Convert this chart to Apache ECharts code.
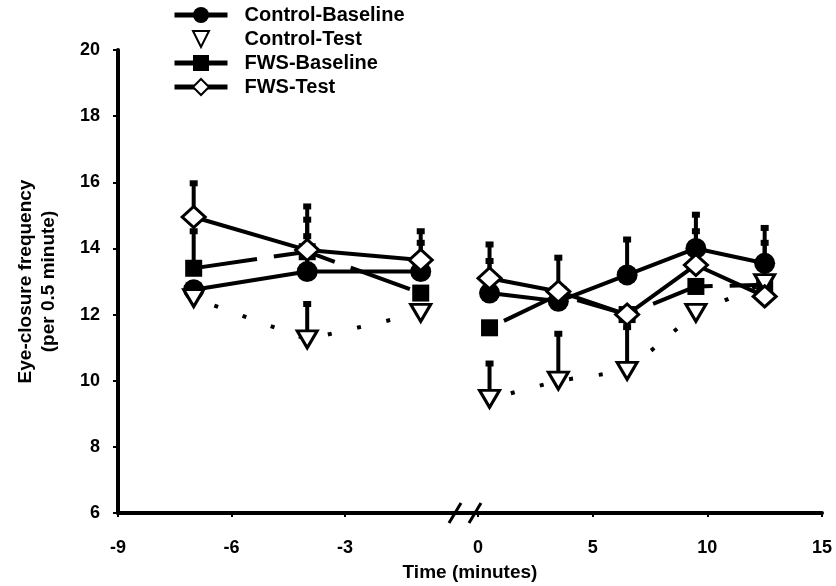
<!DOCTYPE html>
<html><head><meta charset="utf-8">
<script src="https://cdn.jsdelivr.net/npm/echarts@6/dist/echarts.min.js"></script>
<style>html,body{margin:0;padding:0;background:#fff}#c{width:836px;height:586px}</style>
</head><body><div id="c"></div>
<script>
// ---- data ----
const xLeft = [-7, -4, -1];
const xRight = [0.5, 3.5, 6.5, 9.5, 12.5];
const xTicksLeft = [-9, -6, -3];
const xTicksRight = [0, 5, 10, 15];
const yTicks = [6, 8, 10, 12, 14, 16, 18, 20];
const controlBaseline    = [12.75, 13.3, 13.3, 12.65, 12.4, 13.2, 14.0, 13.55];
const controlBaselineErr = [null, 1.1, 0.9, 1.0, null, 1.1, 1.05, 1.1];
const controlTest        = [12.5, 11.25, 12.05, 9.45, 10.0, 10.3, 12.05, 12.95];
const controlTestErr     = [null, 1.1, null, 1.1, 1.45, 1.35, null, null];
const fwsBaseline        = [13.4, 13.9, 12.65, 11.6, 12.6, 12.0, 12.85, 12.9];
const fwsBaselineErr     = [1.15, 1.0, null, null, null, null, null, 1.3];
const fwsTest            = [14.95, 13.95, 13.65, 13.1, 12.7, 12.0, 13.5, 12.55];
const fwsTestErr         = [1.05, 1.35, 0.9, 1.05, 1.05, null, 1.05, null];

const FONT = 'Liberation Sans';
const groups = [
  {name:'Control-Baseline', vals:controlBaseline, err:controlBaselineErr,
   symbol:'circle', size:21, rot:0, fill:'#000', border:0, dash:'solid', offL:0, offR:0},
  {name:'FWS-Baseline', vals:fwsBaseline, err:fwsBaselineErr,
   symbol:'rect', size:17, rot:0, fill:'#000', border:0, dash:[63,17], offL:79, offR:64},
  {name:'Control-Test', vals:controlTest, err:controlTestErr,
   symbol:'triangle', size:[20,17], rot:180, fill:'#fff', border:3, dash:[4,26], offL:8, offR:8},
  {name:'FWS-Test', vals:fwsTest, err:fwsTestErr,
   symbol:'diamond', size:[23,21], rot:0, fill:'#fff', border:3, dash:'solid', offL:0, offR:0}
];

function renderErr(params, api) {
  const x = api.value(0), m = api.value(1), t = api.value(2);
  const p0 = api.coord([x, m]), p1 = api.coord([x, t]);
  return {type:'group', children:[
    {type:'line', shape:{x1:p0[0], y1:p0[1], x2:p1[0], y2:p1[1]}, style:{stroke:'#000', lineWidth:4}},
    {type:'rect', shape:{x:p1[0]-4, y:p1[1]-2, width:8, height:6}, style:{fill:'#000'}}
  ]};
}

const series = [];
[0,1].forEach(gi => {
  const xs = gi === 0 ? xLeft : xRight;
  const start = gi === 0 ? 0 : xLeft.length;
  const data = [];
  groups.forEach(g => {
    xs.forEach((x, i) => {
      const e = g.err[start + i];
      if (e != null) data.push([x, g.vals[start + i], g.vals[start + i] + e]);
    });
  });
  series.push({type:'custom', xAxisIndex:gi, yAxisIndex:gi, z:1, silent:true,
    renderItem:renderErr, data:data, encode:{x:0, y:[1,2]}});
});
groups.forEach(g => {
  [0,1].forEach(gi => {
    const xs = gi === 0 ? xLeft : xRight;
    const start = gi === 0 ? 0 : xLeft.length;
    series.push({
      type:'line', name:g.name, xAxisIndex:gi, yAxisIndex:gi, z:3,
      data: xs.map((x, i) => [x, g.vals[start + i]]),
      symbol:g.symbol, symbolSize:g.size, symbolRotate:g.rot, showAllSymbol:true,
      itemStyle:{color:g.fill, borderColor:'#000', borderWidth:g.border, opacity:1},
      lineStyle:{color:'#000', width:4, type:g.dash, dashOffset: gi===0 ? g.offL : g.offR, cap:'butt'},
      emphasis:{disabled:true}
    });
  });
});

const axisLine = {show:true, onZero:false, lineStyle:{color:'#000', width:4}};
const labelStyle = {color:'#000', fontFamily:FONT, fontWeight:'bold', fontSize:18};
const option = {
  animation:false,
  backgroundColor:'#fff',
  title:{text:'Time (minutes)', left:470, textAlign:'center', top:563, padding:0,
    textStyle:{fontFamily:FONT, fontWeight:'bold', fontSize:19, color:'#000'}},
  legend:{
    orient:'vertical', left:172, top:5, padding:0, itemWidth:53, itemHeight:20, itemGap:4,
    textStyle:{fontFamily:FONT, fontWeight:'bold', fontSize:20, color:'#000', padding:[0,0,0,12]},
    data:[
      {name:'Control-Baseline', lineStyle:{width:5}},
      {name:'Control-Test', lineStyle:{opacity:0}},
      {name:'FWS-Baseline', lineStyle:{type:'solid', width:5}},
      {name:'FWS-Test', lineStyle:{width:5}}
    ]
  },
  grid:[
    {left:118, top:50, width:347, height:463},
    {left:465, top:50, width:357, height:463}
  ],
  xAxis:[
    {type:'value', gridIndex:0, min:-9, max:0.17, axisLine:axisLine,
     axisTick:{show:true, customValues:xTicksLeft, length:4, lineStyle:{color:'#000', width:2}},
     axisLabel:Object.assign({customValues:xTicksLeft, margin:26}, labelStyle),
     splitLine:{show:false}},
    {type:'value', gridIndex:1, min:-0.57, max:15, axisLine:axisLine,
     axisTick:{show:true, customValues:xTicksRight, length:4, lineStyle:{color:'#000', width:2}},
     axisLabel:Object.assign({customValues:xTicksRight, margin:26}, labelStyle),
     splitLine:{show:false}}
  ],
  yAxis:[
    {type:'value', gridIndex:0, min:6, max:20, interval:2, axisLine:axisLine,
     axisTick:{show:true, length:5, lineStyle:{color:'#000', width:2}},
     axisLabel:Object.assign({margin:18, customValues:yTicks}, labelStyle),
     splitLine:{show:false},
     name:'Eye-closure frequency\n(per 0.5 minute)', nameLocation:'middle', nameGap:58, nameRotate:90,
     nameTextStyle:{fontFamily:FONT, fontWeight:'bold', fontSize:19, lineHeight:23, color:'#000'}},
    {type:'value', gridIndex:1, min:6, max:20, interval:2, show:false, splitLine:{show:false}}
  ],
  series:series
};
const chart = echarts.init(document.getElementById('c'), null, {renderer:'canvas'});
chart.setOption(option);
const pj = chart.convertToPixel({xAxisIndex:0, yAxisIndex:0}, [0.17, 6]);
const jx = pj[0], jy = pj[1];
chart.setOption({graphic:[
  {type:'line', shape:{x1:jx-16, y1:jy+10, x2:jx-4, y2:jy-10}, style:{stroke:'#000', lineWidth:3}, z:10},
  {type:'line', shape:{x1:jx+4, y1:jy+10, x2:jx+16, y2:jy-10}, style:{stroke:'#000', lineWidth:3}, z:10}
]});
</script></body></html>
